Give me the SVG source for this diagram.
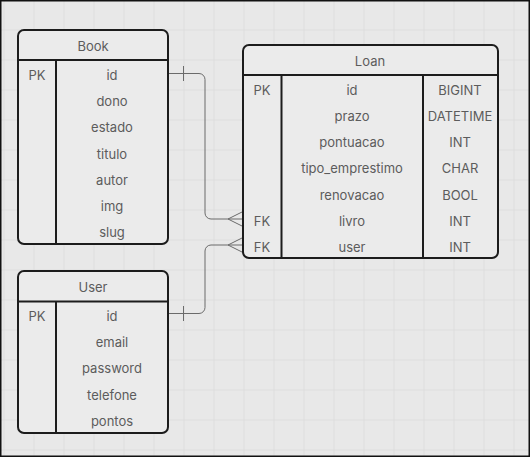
<svg xmlns="http://www.w3.org/2000/svg" width="530" height="457" viewBox="0 0 530 457">
<defs>
<pattern id="grid" x="3.5" y="29.5" width="30" height="30" patternUnits="userSpaceOnUse">
<path d="M0 0H30M0 0V30" fill="none" stroke="#d6d6d6" stroke-width="1"/>
</pattern>
</defs>
<style>
.box{fill:#ebebeb;stroke:#1c1c1c;stroke-width:2}
.ln{stroke:#1c1c1c;stroke-width:2;fill:none}
.t{font-family:Inter,"Liberation Sans",sans-serif;font-size:13px;fill:#5c5c5c;text-anchor:middle;dominant-baseline:central}
.c{fill:none;stroke:#6b6b6b;stroke-width:1}
</style>
<rect x="0" y="0" width="530" height="457" fill="#e8e8e8"/>
<rect x="0" y="0" width="530" height="457" fill="url(#grid)"/>
<rect x="0.75" y="0.75" width="528.5" height="455.5" fill="none" stroke="#111" stroke-width="1.5"/>

<g id="connectors">
<path class="c" d="M168 73.5H199a6 6 0 0 1 6 6V213a6 6 0 0 0 6 6H243"/>
<path class="c" d="M183.5 66V81M228 219L243 211.5M228 219L243 226.5"/>
<path class="c" d="M168 313.5H199a6 6 0 0 0 6-6V251a6 6 0 0 1 6-6H243"/>
<path class="c" d="M183.5 306V321M228 245L243 237.5M228 245L243 252.5"/>
</g>

<g id="book">
<rect class="box" x="18" y="30" width="150" height="214" rx="6"/>
<path class="ln" d="M18 60H168M56 60V244"/>
<text class="t" x="93" y="46">Book</text>
<text class="t" x="37" y="74.5">PK</text>
<text class="t" x="112" y="74.5">id</text>
<text class="t" x="112" y="101">dono</text>
<text class="t" x="112" y="127">estado</text>
<text class="t" x="112" y="153.5">titulo</text>
<text class="t" x="112" y="180">autor</text>
<text class="t" x="112" y="206">img</text>
<text class="t" x="112" y="232">slug</text>
</g>

<g id="loan">
<rect class="box" x="243" y="45" width="255" height="213" rx="6"/>
<path class="ln" d="M243 75H498M281.5 75V258M423 75V258"/>
<text class="t" x="370" y="61">Loan</text>
<text class="t" x="262" y="89.5">PK</text>
<text class="t" x="352" y="89.5">id</text>
<text class="t" x="460" y="89.5">BIGINT</text>
<text class="t" x="352" y="116">prazo</text>
<text class="t" x="460" y="116">DATETIME</text>
<text class="t" x="352" y="142">pontuacao</text>
<text class="t" x="460" y="142">INT</text>
<text class="t" x="352" y="168">tipo_emprestimo</text>
<text class="t" x="460" y="168">CHAR</text>
<text class="t" x="352" y="194.5">renovacao</text>
<text class="t" x="460" y="194.5">BOOL</text>
<text class="t" x="262" y="220.5">FK</text>
<text class="t" x="352" y="220.5">livro</text>
<text class="t" x="460" y="220.5">INT</text>
<text class="t" x="262" y="246.5">FK</text>
<text class="t" x="352" y="246.5">user</text>
<text class="t" x="460" y="246.5">INT</text>
</g>

<g id="user">
<rect class="box" x="18" y="271" width="150" height="162" rx="6"/>
<path class="ln" d="M18 301.5H168M56 301.5V433"/>
<text class="t" x="93" y="287">User</text>
<text class="t" x="37" y="315.5">PK</text>
<text class="t" x="112" y="315.5">id</text>
<text class="t" x="112" y="342">email</text>
<text class="t" x="112" y="368">password</text>
<text class="t" x="112" y="394.5">telefone</text>
<text class="t" x="112" y="421">pontos</text>
</g>
</svg>
